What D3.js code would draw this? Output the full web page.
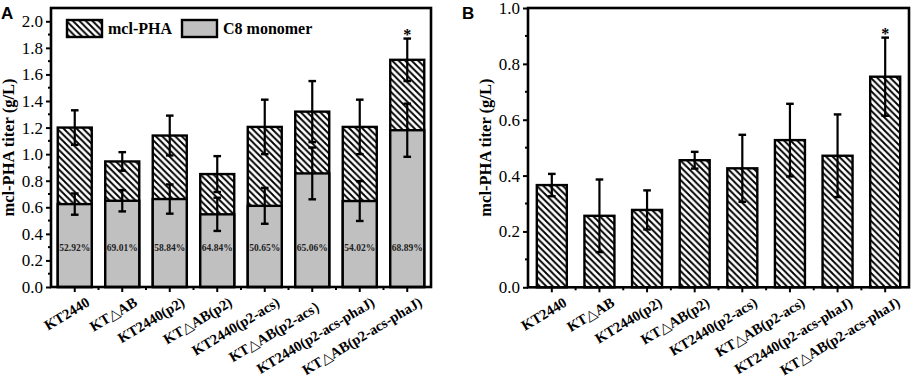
<!DOCTYPE html>
<html><head><meta charset="utf-8">
<script src="https://cdn.jsdelivr.net/npm/d3@7/dist/d3.min.js"></script>
<style>body{margin:0;background:#fff}svg{display:block}.sf{font-family:"Liberation Serif","DejaVu Serif",serif}</style>
</head><body>
<script>
const categories = ["KT2440","KT\u25B3AB","KT2440(p2)","KT\u25B3AB(p2)","KT2440(p2-acs)","KT\u25B3AB(p2-acs\uFF09","KT2440(p2-acs-phaJ)","KT\u25B3AB(p2-acs-phaJ)"];
const categoriesB = ["KT2440","KT\u25B3AB","KT2440(p2)","KT\u25B3AB(p2)","KT2440(p2-acs)","KT\u25B3AB(p2-acs)","KT2440(p2-acs-phaJ)","KT\u25B3AB(p2-acs-phaJ)"];
const totalA = [1.20, 0.945, 1.14, 0.85, 1.205, 1.32, 1.205, 1.71];
const totalErrA = [0.13, 0.07, 0.15, 0.135, 0.205, 0.23, 0.205, 0.16];
const c8A = [0.624, 0.649, 0.662, 0.547, 0.611, 0.855, 0.647, 1.18];
const c8ErrA = [0.08, 0.08, 0.11, 0.125, 0.135, 0.195, 0.15, 0.20];
const pctLabels = ["52.92%","69.01%","58.84%","64.84%","50.65%","65.06%","54.02%","68.89%"];
const titerB = [0.366, 0.256, 0.277, 0.455, 0.426, 0.527, 0.471, 0.754];
const titerErrB = [0.04, 0.13, 0.07, 0.03, 0.12, 0.13, 0.148, 0.14];
const yTicksA = [0,0.2,0.4,0.6,0.8,1.0,1.2,1.4,1.6,1.8,2.0];
const yTicksB = [0,0.2,0.4,0.6,0.8,1.0];
const legendLabels = ["mcl-PHA","C8 monomer"];
const yTitle = "mcl-PHA titer (g/L)";

const W=913,H=381;
const svg=d3.select("body").append("svg").attr("width",W).attr("height",H);
const defs=svg.append("defs");
const pat=defs.append("pattern").attr("id","hatch").attr("patternUnits","userSpaceOnUse")
  .attr("width",6.5).attr("height",6.5);
pat.append("rect").attr("width",6.5).attr("height",6.5).attr("fill","#fff");
pat.append("path").attr("d","M-1,-1 L7.5,7.5 M-1,5.5 L1,7.5 M5.5,-1 L7.5,1")
  .attr("stroke","#000").attr("stroke-width",1.9);

const GRAY="#c0c0c0";

function panel(opt){
  const {x0,x1,y0,y1,ymax,ticks,minorStep,cats,pad,letter,letterX,titleX}=opt;
  const g=svg.append("g");
  const x=d3.scaleBand().domain(cats).range([x0,x1]).paddingInner(pad).paddingOuter(pad/2);
  const y=d3.scaleLinear().domain([0,ymax]).range([y1,y0]);
  opt.drawBars(g,x,y);
  g.append("rect").attr("x",x0).attr("y",y0).attr("width",x1-x0).attr("height",y1-y0)
    .attr("fill","none").attr("stroke","#000").attr("stroke-width",2.6);
  const ya=g.append("g").attr("transform",`translate(${x0},0)`)
    .call(d3.axisLeft(y).tickValues(ticks).tickFormat(d3.format(".1f")).tickSize(5).tickPadding(3));
  ya.select(".domain").remove();
  ya.attr("font-family",null).attr("font-size",null);
  ya.selectAll("line").attr("stroke-width",2);
  ya.selectAll("text").attr("class","sf").attr("font-size",17).attr("fill","#000");
  const minors=d3.range(minorStep, ymax, minorStep*2).filter(v=>v<ymax-1e-9);
  g.selectAll(".mn").data(minors).join("line").attr("x1",x0).attr("x2",x0-3)
    .attr("y1",d=>y(d)).attr("y2",d=>y(d)).attr("stroke","#000").attr("stroke-width",2);
  const xa=g.append("g").attr("transform",`translate(0,${y1})`)
    .call(d3.axisBottom(x).tickSize(5).tickFormat(""));
  xa.select(".domain").remove();
  xa.selectAll("line").attr("stroke-width",2);
  const bounds=cats.slice(1).map(c=>x(c)-x.step()*pad/2);
  g.selectAll(".xm").data(bounds).join("line").attr("x1",d=>d).attr("x2",d=>d)
    .attr("y1",y1).attr("y2",y1+3).attr("stroke","#000").attr("stroke-width",2);
  g.selectAll(".xl").data(cats).join("text").attr("class","sf")
    .attr("transform",d=>`translate(${x(d)+x.bandwidth()/2+16},${y1+18}) rotate(-31)`)
    .attr("text-anchor","end").attr("font-weight","bold")
    .attr("font-size",14.5).text(d=>d);
  g.append("text").attr("class","sf").attr("transform",`translate(${titleX},${(y0+y1)/2}) rotate(-90)`)
    .attr("text-anchor","middle").attr("font-weight","bold")
    .attr("font-size",16.5).text(yTitle);
  g.append("text").attr("x",letterX).attr("y",19).attr("font-family","Liberation Sans, Arial, sans-serif")
    .attr("font-weight","bold").attr("font-size",17).text(letter);
  return {x,y,g};
}

function errBars(g,x,y,cats,vals,errs){
  const cx=i=>x(cats[i])+x.bandwidth()/2;
  vals.forEach((v,i)=>{
    const t=y(v+errs[i]), b=y(v-errs[i]);
    g.append("line").attr("x1",cx(i)).attr("x2",cx(i)).attr("y1",t).attr("y2",b).attr("stroke","#000").attr("stroke-width",2.2);
    [t,b].forEach(yy=>g.append("line").attr("x1",cx(i)-3.8).attr("x2",cx(i)+3.8).attr("y1",yy).attr("y2",yy).attr("stroke","#000").attr("stroke-width",2.4));
  });
}

const A=panel({x0:51,x1:431,y0:8,y1:287,ymax:2.1,ticks:yTicksA,minorStep:0.1,cats:categories,pad:0.284,
  letter:"A",letterX:1,titleX:14,
  drawBars:(g,x,y)=>{
    g.selectAll(".tb").data(totalA).join("rect")
      .attr("x",(d,i)=>x(categories[i])).attr("width",x.bandwidth())
      .attr("y",d=>y(d)).attr("height",d=>y(0)-y(d))
      .attr("fill","url(#hatch)").attr("stroke","#000").attr("stroke-width",2.4);
    g.selectAll(".cb").data(c8A).join("rect")
      .attr("x",(d,i)=>x(categories[i])).attr("width",x.bandwidth())
      .attr("y",d=>y(d)).attr("height",d=>y(0)-y(d))
      .attr("fill",GRAY).attr("stroke","#000").attr("stroke-width",2.4);
    g.selectAll(".pl").data(pctLabels).join("text").attr("class","sf")
      .attr("x",(d,i)=>x(categories[i])+x.bandwidth()/2).attr("y",y(0.3)+3.5)
      .attr("text-anchor","middle").attr("font-weight","bold")
      .attr("font-size",9.5).attr("fill","#222").text(d=>d);
    errBars(g,x,y,categories,totalA,totalErrA);
    errBars(g,x,y,categories,c8A,c8ErrA);
    const i=7;
    g.append("text").attr("class","sf").attr("x",x(categories[i])+x.bandwidth()/2).attr("y",y(totalA[i]+totalErrA[i])+1)
      .attr("text-anchor","middle").attr("font-weight","bold").attr("font-size",16).text("*");
  }});
const lg=A.g.append("g");
lg.append("rect").attr("x",67).attr("y",20).attr("width",35).attr("height",17).attr("fill","url(#hatch)").attr("stroke","#000").attr("stroke-width",2.4);
lg.append("text").attr("class","sf").attr("x",108).attr("y",34).attr("font-weight","bold").attr("font-size",16).text(legendLabels[0]);
lg.append("rect").attr("x",182).attr("y",20).attr("width",35).attr("height",17).attr("fill",GRAY).attr("stroke","#000").attr("stroke-width",2.4);
lg.append("text").attr("class","sf").attr("x",223).attr("y",34).attr("font-weight","bold").attr("font-size",16).text(legendLabels[1]);

const B=panel({x0:528,x1:909,y0:8,y1:287.3,ymax:1.0,ticks:yTicksB,minorStep:0.1,cats:categoriesB,pad:0.37,
  letter:"B",letterX:462,titleX:491,
  drawBars:(g,x,y)=>{
    g.selectAll(".bb").data(titerB).join("rect")
      .attr("x",(d,i)=>x(categoriesB[i])).attr("width",x.bandwidth())
      .attr("y",d=>y(d)).attr("height",d=>y(0)-y(d))
      .attr("fill","url(#hatch)").attr("stroke","#000").attr("stroke-width",2.4);
    errBars(g,x,y,categoriesB,titerB,titerErrB);
    const i=7;
    g.append("text").attr("class","sf").attr("x",x(categoriesB[i])+x.bandwidth()/2).attr("y",y(titerB[i]+titerErrB[i])+1)
      .attr("text-anchor","middle").attr("font-weight","bold").attr("font-size",16).text("*");
  }});
</script>
</body></html>
